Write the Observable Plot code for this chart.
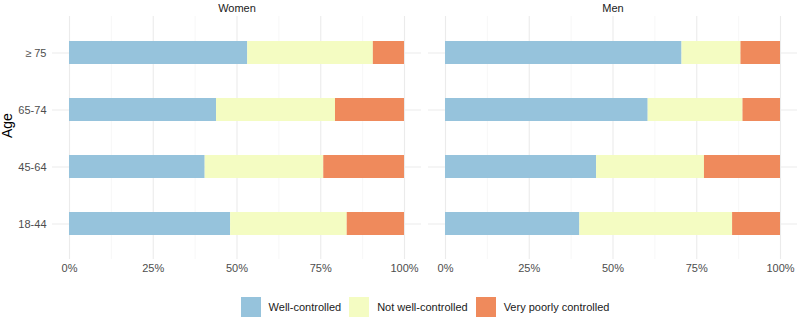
<!DOCTYPE html>
<html>
<head>
<meta charset="utf-8">
<script src="https://cdn.jsdelivr.net/npm/d3@7"></script>
<script src="https://cdn.jsdelivr.net/npm/@observablehq/plot@0.6"></script>
<style>
  body { margin: 0; background: #fff; font-family: "Liberation Sans", Arial, sans-serif; }
  #chart { width: 800px; height: 319px; position: relative; overflow: hidden; }
  #chart svg { display: block; }
  .legend { display: flex; justify-content: center; align-items: center; gap: 8px;
            margin-left: 52px; width: 746px; padding-top: 15px; font-size: 11px; color: #1a1a1a; }
  .legend .item { display: flex; align-items: center; gap: 8px; }
  .legend .swatch { width: 20px; height: 20px; }
</style>
</head>
<body>
<div id="chart"></div>
<script>
// Blood pressure control by age group and sex (share of patients, %)
const ages = ["≥ 75", "65-74", "45-64", "18-44"];
const sexes = ["Women", "Men"];
const statuses = ["Well-controlled", "Not well-controlled", "Very poorly controlled"];
const colors = ["#96c3dc", "#f4fcc2", "#ef8a5c"];

const womenWell = [53.2, 43.9, 40.5, 48.1];
const womenNot  = [37.5, 35.5, 35.4, 34.8];
const womenPoor = [9.3, 20.6, 24.1, 17.1];

const menWell = [70.6, 60.5, 45.1, 40.1];
const menNot  = [17.6, 28.3, 32.2, 45.6];
const menPoor = [11.8, 11.2, 22.7, 14.3];

const xTicks = [0, 25, 50, 75, 100];
const xMinor = [12.5, 37.5, 62.5, 87.5];

// Long-format table for the stacked bars
const series = {
  Women: [womenWell, womenNot, womenPoor],
  Men: [menWell, menNot, menPoor]
};
const rows = [];
for (const sex of sexes) {
  statuses.forEach((status, s) => {
    ages.forEach((age, i) => {
      rows.push({sex, age, status, value: series[sex][s][i]});
    });
  });
}

const plot = Plot.plot({
  width: 800,
  height: 282,
  marginLeft: 52,
  marginRight: 2,
  marginTop: 16,
  marginBottom: 23,
  style: {fontFamily: "'Liberation Sans', Arial, sans-serif", fontSize: "11px", background: "white"},
  fx: {domain: sexes, paddingInner: 0.0186, paddingOuter: 0, label: null},
  x: {domain: [0, 100], inset: 17, label: null},
  y: {domain: ages, paddingInner: 0.6, paddingOuter: 0.4, label: null},
  color: {domain: statuses, range: colors},
  marks: [
    Plot.gridX({ticks: xMinor, stroke: "#f3f3f3", strokeOpacity: 1, strokeWidth: 0.7}),
    Plot.gridX({ticks: xTicks, stroke: "#ebebeb", strokeOpacity: 1, strokeWidth: 1.1}),
    Plot.gridY({stroke: "#ebebeb", strokeOpacity: 1, strokeWidth: 1.1}),
    Plot.barX(rows, Plot.stackX({
      x: "value", y: "age", fx: "sex", fill: "status", order: statuses
    })),
    Plot.axisX({ticks: xTicks, tickFormat: d => d + "%", tickSize: 0, tickPadding: 5, fill: "#4d4d4d"}),
    Plot.axisY({tickSize: 0, tickPadding: 6, fill: "#4d4d4d", label: null}),
    Plot.axisFx({anchor: "top", tickSize: 0, tickPadding: 5, label: null, fill: "#1a1a1a"}),
    Plot.text(["Age"], {
      text: d => d, fx: () => "Women", frameAnchor: "left", dx: -44.5,
      rotate: -90, fontSize: 14, fill: "#000"
    })
  ]
});

const chart = document.getElementById("chart");
chart.appendChild(plot);

// Legend below the panels
const legend = document.createElement("div");
legend.className = "legend";
statuses.forEach((s, i) => {
  const item = document.createElement("div");
  item.className = "item";
  const sw = document.createElement("div");
  sw.className = "swatch";
  sw.style.background = colors[i];
  const label = document.createElement("span");
  label.textContent = s;
  item.appendChild(sw);
  item.appendChild(label);
  legend.appendChild(item);
});
chart.appendChild(legend);
</script>
</body>
</html>
